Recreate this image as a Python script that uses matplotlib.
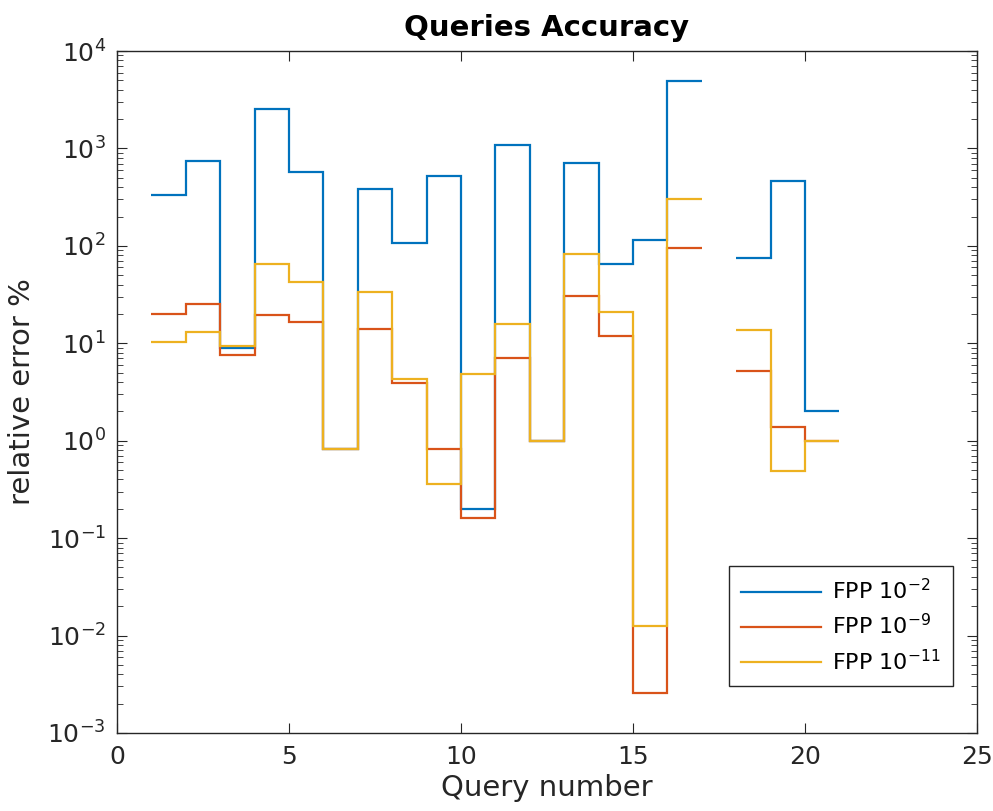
import numpy as np
import matplotlib.pyplot as plt
from matplotlib.ticker import LogLocator, NullFormatter

# query numbers 1..20, step edges run to 21 (query 17 has no value)
edges = np.arange(1, 22)
fpp_2 = [333, 748, 8.96, 2520, 570, 0.817, 386, 108, 518, 0.20,
         1077, 0.99, 709, 65, 115, 4890, np.nan, 75, 463, 2.02]
fpp_9 = [20.1, 25.3, 7.5, 19.4, 16.7, 0.817, 13.9, 3.94, 0.817, 0.16,
         7.1, 0.99, 30.8, 12.0, 0.00255, 94.4, np.nan, 5.2, 1.38, 0.99]
fpp_11 = [10.4, 13.2, 9.4, 65, 42.6, 0.817, 33.6, 4.27, 0.357, 4.89,
          15.9, 0.99, 81.9, 20.8, 0.0125, 305, np.nan, 13.8, 0.49, 0.99]
labels = ['FPP 10$^{-2}$', 'FPP 10$^{-9}$', 'FPP 10$^{-11}$']
colors = ['#0072BD', '#D95319', '#EDB120']

fig = plt.figure(figsize=(9.93, 8.11), dpi=100)
ax = fig.add_axes([0.1178, 0.0962, 0.8661, 0.8409])

for vals, lab, col in zip([fpp_2, fpp_9, fpp_11], labels, colors):
    ax.stairs(vals, edges, baseline=None, color=col, linewidth=1.6, label=lab)

ax.set_yscale('log')
ax.set_xlim(0, 25)
ax.set_ylim(1e-3, 1e4)
ax.set_xticks([0, 5, 10, 15, 20, 25])
ax.yaxis.set_major_locator(LogLocator(base=10, numticks=20))
ax.yaxis.set_minor_locator(LogLocator(base=10, subs=np.arange(2, 10), numticks=20))
ax.yaxis.set_minor_formatter(NullFormatter())

dark = '#262626'
for sp in ax.spines.values():
    sp.set_color(dark)
    sp.set_linewidth(1.0)
ax.tick_params(which='both', direction='in', top=True, right=True,
               colors=dark, labelcolor=dark)
ax.tick_params(which='major', length=7, labelsize=18)
ax.tick_params(which='minor', length=4, labelleft=False, labelright=False,
               labelbottom=False)
ax.tick_params(axis='x', pad=9)
ax.tick_params(axis='y', pad=8)

ax.set_xlabel('Query number', fontsize=21, color=dark, labelpad=3)
ax.set_ylabel('relative error %', fontsize=21, color=dark, labelpad=8)
ax.set_title('Queries Accuracy', fontsize=21, fontweight='bold', pad=11)

leg = ax.legend(loc='lower right', bbox_to_anchor=(0.972, 0.069), borderaxespad=0,
                fontsize=16, fancybox=False, framealpha=1, edgecolor=dark,
                handlelength=3.6, handletextpad=0.5, borderpad=0.55,
                labelspacing=0.45)
leg.get_frame().set_linewidth(1.0)

fig.savefig('out.png', dpi=100)
